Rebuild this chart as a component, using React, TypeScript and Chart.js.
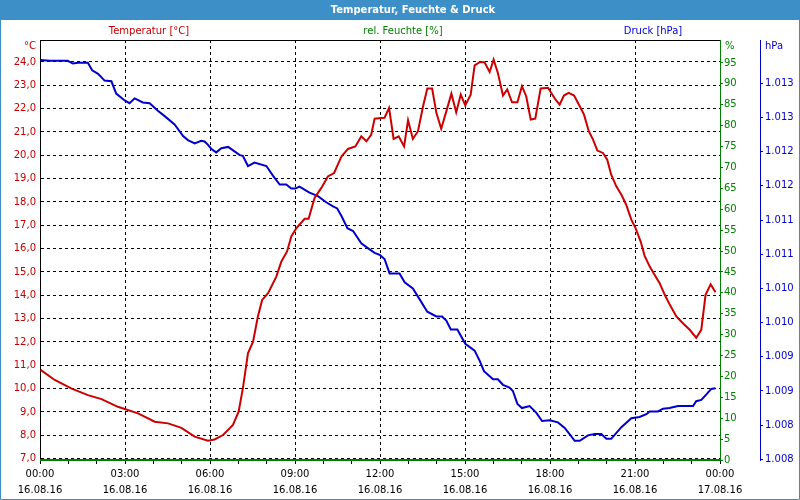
import React, { useEffect, useRef } from "react";
import { Chart, registerables } from "chart.js";

Chart.register(...registerables);

// ---- data (hours since 16.08.16 00:00) ----
const tempTimes = [
  0.02, 0.52, 1.10, 1.69, 2.17, 2.75, 3.46, 4.05, 4.52, 4.99, 5.46, 5.93, 6.16, 6.46, 6.81, 7.01, 7.16, 7.34,
  7.52, 7.69, 7.84, 8.05, 8.34, 8.52, 8.72, 8.87, 9.05, 9.34, 9.48, 9.69, 9.93, 10.16, 10.38, 10.64, 10.87,
  11.13, 11.34, 11.52, 11.69, 11.81, 12.05, 12.16, 12.32, 12.48, 12.66, 12.85, 12.99, 13.16, 13.34, 13.52,
  13.67, 13.84, 13.99, 14.16, 14.34, 14.52, 14.69, 14.85, 15.01, 15.20, 15.34, 15.52, 15.69, 15.87, 16.01,
  16.16, 16.34, 16.49, 16.66, 16.85, 17.01, 17.16, 17.32, 17.48, 17.67, 17.93, 18.19, 18.34, 18.49, 18.66,
  18.85, 19.05, 19.20, 19.37, 19.52, 19.67, 19.87, 20.02, 20.16, 20.34, 20.52, 20.69, 20.87, 21.02, 21.20,
  21.34, 21.52, 21.69, 21.87, 22.05, 22.23, 22.46, 22.69, 22.93, 23.16, 23.34, 23.49, 23.67, 23.84,
];
const temperature = [
  10.80, 10.37, 10.01, 9.72, 9.55, 9.22, 8.94, 8.58, 8.51, 8.32, 7.94, 7.77, 7.82, 8.01, 8.44, 9.01, 10.01, 11.51,
  12.01, 13.09, 13.80, 14.09, 14.80, 15.45, 15.88, 16.52, 16.88, 17.28, 17.28, 18.17, 18.60, 19.09, 19.24, 19.95, 20.27,
  20.38, 20.81, 20.60, 20.88, 21.57, 21.60, 21.61, 22.03, 20.70, 20.81, 20.38, 21.50, 20.70, 21.03, 22.10,
  22.86, 22.86, 21.82, 21.14, 21.88, 22.64, 21.84, 22.60, 22.14, 22.60, 23.85, 23.99, 23.99, 23.57, 24.10,
  23.53, 22.56, 22.82, 22.27, 22.27, 22.96, 22.53, 21.53, 21.57, 22.86, 22.89, 22.39, 22.17, 22.56, 22.67,
  22.56, 22.10, 21.74, 21.03, 20.67, 20.20, 20.10, 19.81, 19.17, 18.67, 18.31, 17.88, 17.24, 16.88, 16.30,
  15.69, 15.23, 14.88, 14.52, 14.02, 13.59, 13.09, 12.80, 12.52, 12.18, 12.52, 14.02, 14.47, 14.13,
];

const humidityTimes = [0, 24];
const humidity = [0, 0];

const pressureTimes = [
  0.02, 0.34, 0.98, 1.16, 1.34, 1.69, 1.84, 2.05, 2.28, 2.52, 2.69, 2.99, 3.16, 3.34, 3.63, 3.87, 4.16, 4.40,
  4.75, 5.05, 5.22, 5.46, 5.69, 5.81, 5.93, 6.05, 6.22, 6.40, 6.64, 7.05, 7.16, 7.34, 7.57, 7.99, 8.22, 8.46,
  8.69, 8.87, 9.01, 9.16, 9.51, 9.81, 10.10, 10.34, 10.49, 10.64, 10.85, 11.05, 11.34, 11.57, 11.81, 11.99,
  12.16, 12.34, 12.69, 12.87, 13.16, 13.40, 13.67, 13.99, 14.19, 14.34, 14.50, 14.73, 15.01, 15.34, 15.52,
  15.67, 15.99, 16.16, 16.34, 16.57, 16.69, 16.85, 17.01, 17.28, 17.52, 17.72, 17.99, 18.28, 18.52, 18.69,
  18.87, 19.05, 19.34, 19.58, 19.81, 19.99, 20.16, 20.52, 20.87, 21.16, 21.40, 21.52, 21.81, 21.99, 22.22,
  22.52, 23.05, 23.16, 23.34, 23.52, 23.69, 23.84,
];
const pressure = [
  1013.59, 1013.58, 1013.58, 1013.54, 1013.55, 1013.55, 1013.44, 1013.39, 1013.29, 1013.28, 1013.10, 1013.00, 1012.96, 1013.03, 1012.97, 1012.96, 1012.85, 1012.77,
  1012.65, 1012.48, 1012.42, 1012.37, 1012.41, 1012.40, 1012.35, 1012.29, 1012.24, 1012.30, 1012.32, 1012.20, 1012.19, 1012.04, 1012.09, 1012.04, 1011.90, 1011.77,
  1011.77, 1011.71, 1011.71, 1011.74, 1011.65, 1011.60, 1011.51, 1011.45, 1011.42, 1011.31, 1011.13, 1011.09, 1010.91, 1010.84, 1010.77, 1010.74,
  1010.68, 1010.47, 1010.47, 1010.34, 1010.25, 1010.09, 1009.91, 1009.84, 1009.84, 1009.78, 1009.65, 1009.65, 1009.44, 1009.34, 1009.19,
  1009.04, 1008.92, 1008.92, 1008.84, 1008.80, 1008.75, 1008.56, 1008.50, 1008.53, 1008.43, 1008.31, 1008.32, 1008.29, 1008.21, 1008.12,
  1008.02, 1008.02, 1008.10, 1008.12, 1008.12, 1008.05, 1008.05, 1008.22, 1008.35, 1008.37, 1008.41, 1008.45, 1008.45, 1008.49, 1008.50,
  1008.53, 1008.53, 1008.60, 1008.62, 1008.70, 1008.78, 1008.79,
];

// ---- ticks ----
const hourTicks = [0, 1, 2, 3, 4, 5, 6, 7, 8, 9, 10, 11, 12, 13, 14, 15, 16, 17, 18, 19, 20, 21, 22, 23, 24];
const xLabelTimes = ["00:00", "03:00", "06:00", "09:00", "12:00", "15:00", "18:00", "21:00", "00:00"];
const xLabelDates = ["16.08.16", "16.08.16", "16.08.16", "16.08.16", "16.08.16", "16.08.16", "16.08.16", "16.08.16", "17.08.16"];

const tempTickValues = [7, 8, 9, 10, 11, 12, 13, 14, 15, 16, 17, 18, 19, 20, 21, 22, 23, 24];
const tempTickLabels = ["7,0", "8,0", "9,0", "10,0", "11,0", "12,0", "13,0", "14,0", "15,0", "16,0", "17,0", "18,0", "19,0", "20,0", "21,0", "22,0", "23,0", "24,0"];

const humTickValues = [0, 5, 10, 15, 20, 25, 30, 35, 40, 45, 50, 55, 60, 65, 70, 75, 80, 85, 90, 95];
const humTickLabels = ["0", "5", "10", "15", "20", "25", "30", "35", "40", "45", "50", "55", "60", "65", "70", "75", "80", "85", "90", "95"];

const presTickValues = [1007.75, 1008.25, 1008.75, 1009.25, 1009.75, 1010.25, 1010.75, 1011.25, 1011.75, 1012.25, 1012.75, 1013.25];
const presTickLabels = ["1.008", "1.008", "1.009", "1.009", "1.010", "1.010", "1.011", "1.011", "1.012", "1.012", "1.013", "1.013"];

const TITLE = "Temperatur, Feuchte & Druck";
const TEMP_LABEL = "Temperatur [°C]";
const HUM_LABEL = "rel. Feuchte [%]";
const PRES_LABEL = "Druck [hPa]";

const RED = "#cc0000";
const RED_TXT = "#c00000";
const GREEN = "#008000";
const BLUE = "#0000cc";
const FRAME = "#3d8fc8";
const FONT = "'DejaVu Sans', sans-serif";

const decorPlugin = {
  id: "decor",
  beforeDraw(chart: any) {
    const ctx = chart.ctx;
    const w = chart.width;
    const h = chart.height;
    ctx.save();
    ctx.fillStyle = "#ffffff";
    ctx.fillRect(0, 0, w, h);
    ctx.fillStyle = FRAME;
    ctx.fillRect(0, 0, w, 20);
    ctx.fillStyle = "#ffffff";
    ctx.font = "bold 10px " + FONT;
    ctx.textAlign = "center";
    ctx.textBaseline = "middle";
    ctx.fillText(TITLE, 413, 10);

    ctx.font = "10px " + FONT;
    ctx.fillStyle = RED_TXT;
    ctx.fillText(TEMP_LABEL, 149, 31);
    ctx.fillStyle = GREEN;
    ctx.fillText(HUM_LABEL, 403, 31);
    ctx.fillStyle = BLUE;
    ctx.fillText(PRES_LABEL, 653, 31);

    ctx.textAlign = "right";
    ctx.fillStyle = RED_TXT;
    ctx.fillText("°C", 36, 46);
    ctx.textAlign = "left";
    ctx.fillStyle = GREEN;
    ctx.fillText("%", 725, 46);
    ctx.fillStyle = BLUE;
    ctx.fillText("hPa", 765, 46);
    ctx.restore();
  },
  afterDraw(chart: any) {
    const ctx = chart.ctx;
    const a = chart.chartArea;
    ctx.save();
    ctx.strokeStyle = "#000";
    ctx.lineWidth = 1;
    ctx.beginPath();
    ctx.moveTo(a.left, Math.round(a.top) + 0.5);
    ctx.lineTo(a.right, Math.round(a.top) + 0.5);
    ctx.stroke();
    ctx.strokeStyle = FRAME;
    ctx.beginPath();
    ctx.moveTo(0.5, 20);
    ctx.lineTo(0.5, chart.height - 0.5);
    ctx.lineTo(chart.width - 0.5, chart.height - 0.5);
    ctx.lineTo(chart.width - 0.5, 20);
    ctx.stroke();
    ctx.restore();
  },
};

export default function App() {
  const ref = useRef<HTMLCanvasElement | null>(null);

  useEffect(() => {
    if (!ref.current) return;
    Chart.defaults.font.family = FONT;
    Chart.defaults.font.size = 10;
    Chart.defaults.color = "#000";

    const chart = new Chart(ref.current, {
      type: "line",
      data: {
        datasets: [
          {
            label: TEMP_LABEL,
            data: tempTimes.map((t, i) => ({ x: t, y: temperature[i] })),
            yAxisID: "yTemp",
            borderColor: RED,
            borderWidth: 2,
            pointRadius: 0,
            tension: 0,
          },
          {
            label: HUM_LABEL,
            data: humidityTimes.map((t, i) => ({ x: t, y: humidity[i] })),
            yAxisID: "yHum",
            borderColor: GREEN,
            borderWidth: 2,
            pointRadius: 0,
            tension: 0,
            clip: { left: 0, top: 0, right: 0, bottom: 2 } as any,
          },
          {
            label: PRES_LABEL,
            data: pressureTimes.map((t, i) => ({ x: t, y: pressure[i] })),
            yAxisID: "yPres",
            borderColor: BLUE,
            borderWidth: 2,
            pointRadius: 0,
            tension: 0,
          },
        ],
      },
      options: {
        responsive: false,
        animation: false,
        layout: { padding: { top: 40, left: 0, right: 0, bottom: 0 } },
        plugins: { legend: { display: false }, title: { display: false }, tooltip: { enabled: false } },
        scales: {
          x: {
            type: "linear",
            min: 0,
            max: 24,
            afterBuildTicks: (scale: any) => {
              scale.ticks = hourTicks.map((v) => ({ value: v }));
            },
            afterFit: (scale: any) => {
              scale.height = 40;
            },
            grid: {
              color: (c: any) => (c.tick && c.tick.value % 3 === 0 ? "#000" : "rgba(0,0,0,0)"),
              tickColor: "#000",
              tickLength: 4,
              lineWidth: 1,
              tickBorderDash: [],
            },
            border: { color: "#000", dash: [3, 3] },
            ticks: {
              autoSkip: false,
              maxRotation: 0,
              padding: 3,
              color: "#000",
              font: { size: 10, lineHeight: 1.55 },
              callback: (value: any) => {
                const v = Number(value);
                if (v % 3 !== 0) return "";
                const i = v / 3;
                return [xLabelTimes[i], xLabelDates[i]];
              },
            },
          },
          yTemp: {
            type: "linear",
            position: "left",
            min: 6.94,
            max: 24.94,
            afterBuildTicks: (scale: any) => {
              scale.ticks = tempTickValues.map((v) => ({ value: v }));
            },
            afterFit: (scale: any) => {
              scale.width = 40;
            },
            grid: { color: "#000", drawTicks: false, lineWidth: 1 },
            border: { color: "#000", dash: [3, 3] },
            ticks: {
              color: RED_TXT,
              padding: 4,
              font: { size: 10 },
              callback: (_v: any, i: number) => tempTickLabels[i],
            },
          },
          yHum: {
            type: "linear",
            position: "right",
            weight: 0,
            min: 0,
            max: 100.5,
            afterBuildTicks: (scale: any) => {
              scale.ticks = humTickValues.map((v) => ({ value: v }));
            },
            afterFit: (scale: any) => {
              scale.width = 40;
            },
            grid: { drawOnChartArea: false, color: GREEN, tickColor: GREEN, tickLength: 3 },
            border: { color: GREEN },
            ticks: {
              color: GREEN,
              padding: 1,
              font: { size: 10 },
              callback: (_v: any, i: number) => humTickLabels[i],
            },
          },
          yPres: {
            type: "linear",
            position: "right",
            weight: 1,
            min: 1007.74,
            max: 1013.884,
            afterBuildTicks: (scale: any) => {
              scale.ticks = presTickValues.map((v) => ({ value: v }));
            },
            afterFit: (scale: any) => {
              scale.width = 40;
            },
            grid: { drawOnChartArea: false, color: BLUE, tickColor: BLUE, tickLength: 3 },
            border: { color: BLUE },
            ticks: {
              color: BLUE,
              padding: 2,
              font: { size: 10 },
              callback: (_v: any, i: number) => presTickLabels[i],
            },
          },
        },
      } as any,
      plugins: [decorPlugin],
    });
    return () => chart.destroy();
  }, []);

  return (
    <div style={{ position: "absolute", left: 0, top: 0, width: 800, height: 500 }}>
      <canvas ref={ref} width={800} height={500} style={{ width: 800, height: 500, display: "block" }} />
    </div>
  );
}
